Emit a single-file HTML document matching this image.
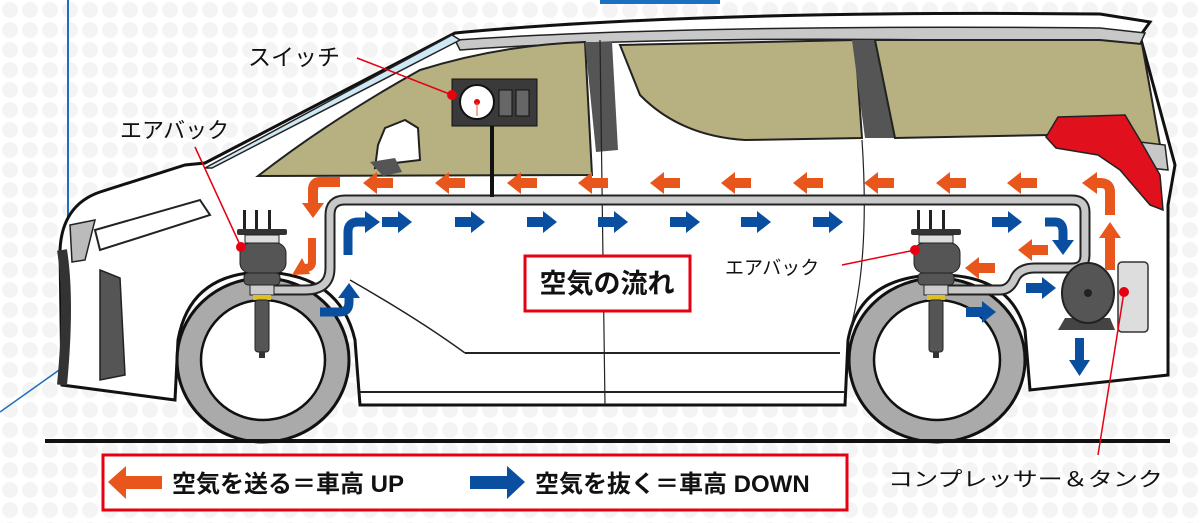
<!DOCTYPE html>
<html><head><meta charset="utf-8"><style>
html,body{margin:0;padding:0;background:#fff}
svg{display:block}
text{font-family:"Liberation Sans","Noto Sans CJK JP",sans-serif}
</style></head><body>
<svg width="1200" height="523" viewBox="0 0 1200 523" xmlns="http://www.w3.org/2000/svg">
<defs>
<pattern id="dots" width="20" height="20" patternUnits="userSpaceOnUse"><circle cx="10" cy="10" r="8" fill="#f4f4f4"/></pattern>
<g id="la"><polygon points="0,0 14,-11 14,-5 30,-5 30,5 14,5 14,11" fill="#e8561c"/></g>
<g id="ra"><polygon points="0,0 -14,-11 -14,-5 -30,-5 -30,5 -14,5 -14,11" fill="#0a4ea0"/></g>
</defs>
<rect width="1200" height="523" fill="url(#dots)"/>
<!-- blue lines -->
<line x1="68" y1="0" x2="68" y2="250" stroke="#1a6fc0" stroke-width="2"/>
<line x1="62" y1="368" x2="0" y2="412" stroke="#1a6fc0" stroke-width="1.5"/>
<rect x="600" y="0" width="120" height="4" fill="#1a6fc0"/>
<!-- body -->
<path d="M62,385 L60,250 Q62,205 100,192 L185,165 L205,163 L455,33 Q700,10 1100,14 L1150,22 L1140,36 L1175,165 L1168,205 L1168,375 L1030,390 L1025,330 Q1010,275 940,275 Q860,275 848,340 L845,405 L360,405 L355,340 Q340,275 265,272 Q190,272 178,340 L175,400 Z" fill="#fff" stroke="#111" stroke-width="3"/>
<!-- roof rail -->
<path d="M455,40 Q700,24 1100,28 L1145,33 L1140,44 Q700,32 460,50 Z" fill="#c8c8c8" stroke="#222" stroke-width="1.5"/>
<!-- A pillar glass strip -->
<path d="M205,168 L452,35 L460,40 L212,168 Z" fill="#cfe8f5" stroke="#222" stroke-width="1.5"/>
<!-- windows -->
<path d="M258,176 Q330,120 420,70 Q500,45 585,42 L592,175 Z" fill="#b7b080" stroke="#222" stroke-width="2"/>
<path d="M585,42 L612,42 L618,150 L596,152 Z" fill="#555"/>
<path d="M620,45 L855,40 L862,138 L745,140 Q680,136 640,95 Z" fill="#b7b080" stroke="#222" stroke-width="2"/>
<path d="M852,40 L875,40 L895,138 L865,138 Z" fill="#555"/>
<path d="M875,40 L1100,40 L1142,44 L1160,145 L1050,135 L895,138 Z" fill="#b7b080" stroke="#222" stroke-width="2"/>
<path d="M1140,142 L1165,145 L1168,170 L1150,168 Z" fill="#c8c8c8" stroke="#222" stroke-width="1.5"/>
<!-- tail light -->
<path d="M1058,117 L1125,115 L1140,140 L1160,175 L1163,210 L1150,205 L1120,170 L1098,155 L1056,148 L1046,137 Z" fill="#e0101c" stroke="#222" stroke-width="1.5"/>
<!-- mirror -->
<path d="M378,145 L385,128 L405,120 L418,128 L420,160 L395,163 L375,168 Z" fill="#fff" stroke="#222" stroke-width="2"/>
<path d="M370,162 L395,158 L402,172 L383,176 Z" fill="#555"/>
<!-- front detail -->
<path d="M95,230 L200,200 L210,215 L100,250 Z" fill="#fff" stroke="#222" stroke-width="2"/>
<path d="M70,225 L95,220 L85,260 L72,262 Z" fill="#bbb" stroke="#222" stroke-width="1.5"/>
<path d="M100,270 L120,278 L125,375 L100,380 Z" fill="#555" stroke="#222" stroke-width="1.5"/>
<path d="M62,250 Q70,300 62,385" fill="none" stroke="#333" stroke-width="10"/>
<!-- sill lines -->
<line x1="465" y1="353" x2="840" y2="353" stroke="#222" stroke-width="2"/>
<line x1="360" y1="392" x2="845" y2="392" stroke="#222" stroke-width="2"/>
<path d="M350,280 Q420,320 465,353" fill="none" stroke="#222" stroke-width="1.5"/>
<line x1="600" y1="40" x2="605" y2="405" stroke="#222" stroke-width="1.2"/>
<path d="M862,140 Q870,260 850,330" fill="none" stroke="#222" stroke-width="1.2"/>
<!-- wheels -->
<ellipse cx="263" cy="360" rx="86" ry="82" fill="#aaa" stroke="#111" stroke-width="3"/>
<ellipse cx="263" cy="360" rx="62" ry="60" fill="#fff" stroke="#111" stroke-width="2.5"/>
<ellipse cx="937" cy="360" rx="88" ry="82" fill="#aaa" stroke="#111" stroke-width="3"/>
<ellipse cx="937" cy="360" rx="63" ry="60" fill="#fff" stroke="#111" stroke-width="2.5"/>
<!-- ground -->
<rect x="45" y="439" width="1125" height="4" fill="#111"/>
<!-- pipe -->
<path d="M940,290 L1000,290 Q1010,290 1015,278 Q1020,268 1035,268 L1072,268 Q1085,268 1085,255 L1085,212 Q1085,200 1072,200 L345,200 Q330,200 330,215 L330,268 Q330,290 305,290 L265,290" fill="none" stroke="#222" stroke-width="11"/>
<path d="M940,290 L1000,290 Q1010,290 1015,278 Q1020,268 1035,268 L1072,268 Q1085,268 1085,255 L1085,212 Q1085,200 1072,200 L345,200 Q330,200 330,215 L330,268 Q330,290 305,290 L265,290" fill="none" stroke="#c8c8c8" stroke-width="7"/>
<!-- airbags -->
<g id="ab">
<rect x="243" y="210" width="3" height="22" fill="#222"/><rect x="255" y="210" width="3" height="22" fill="#222"/><rect x="268" y="210" width="3" height="22" fill="#222"/>
<rect x="237" y="229" width="50" height="6" rx="2" fill="#333"/>
<rect x="245" y="235" width="34" height="8" fill="#ddd" stroke="#222"/>
<rect x="240" y="243" width="46" height="30" rx="10" fill="#555" stroke="#222"/>
<rect x="244" y="273" width="36" height="12" rx="4" fill="#555" stroke="#222"/>
<rect x="250" y="285" width="24" height="10" fill="#ccc" stroke="#222"/>
<rect x="253" y="295" width="18" height="5" fill="#e0c020"/>
<rect x="255" y="300" width="14" height="52" rx="3" fill="#555" stroke="#222"/>
<rect x="259" y="352" width="6" height="6" fill="#333"/>
</g>
<use href="#ab" x="674"/>
<!-- compressor -->
<rect x="1118" y="262" width="30" height="70" rx="4" fill="#ddd" stroke="#333" stroke-width="1.5"/>
<path d="M1065,318 L1110,318 L1115,330 L1058,330 Z" fill="#444"/>
<ellipse cx="1088" cy="293" rx="26" ry="30" fill="#555" stroke="#222" stroke-width="2"/>
<circle cx="1088" cy="293" r="4" fill="#222"/>
<!-- orange arrows -->
<g>
<use href="#la" x="363" y="183"/><use href="#la" x="435" y="183"/><use href="#la" x="507" y="183"/><use href="#la" x="578" y="183"/><use href="#la" x="650" y="183"/><use href="#la" x="721" y="183"/><use href="#la" x="793" y="183"/><use href="#la" x="864" y="183"/><use href="#la" x="936" y="183"/><use href="#la" x="1007" y="183"/>
<use href="#la" x="1018" y="250"/><use href="#la" x="965" y="268"/>
</g>
<path d="M340,182 L320,182 Q313,182 313,190 L313,205" fill="none" stroke="#e8561c" stroke-width="10"/>
<polygon points="302,203 324,203 313,218" fill="#e8561c"/>
<path d="M312,238 L312,262 Q312,268 305,268" fill="none" stroke="#e8561c" stroke-width="8"/>
<polygon points="302,258 292,275 310,274" fill="#e8561c"/>
<path d="M1110,270 L1110,235" fill="none" stroke="#e8561c" stroke-width="10"/>
<polygon points="1099,238 1121,238 1110,222" fill="#e8561c"/>
<path d="M1110,215 L1110,192 Q1110,183 1100,183 L1095,183" fill="none" stroke="#e8561c" stroke-width="10"/>
<polygon points="1082,183 1097,172 1097,194" fill="#e8561c"/>
<!-- blue arrows -->
<g>
<use href="#ra" x="412" y="222"/><use href="#ra" x="485" y="222"/><use href="#ra" x="557" y="222"/><use href="#ra" x="628" y="222"/><use href="#ra" x="700" y="222"/><use href="#ra" x="771" y="222"/><use href="#ra" x="843" y="222"/><use href="#ra" x="1022" y="222"/>
<use href="#ra" x="1056" y="288"/><use href="#ra" x="996" y="312"/>
</g>
<path d="M348,255 L348,232 Q348,222 358,222 L365,222" fill="none" stroke="#0a4ea0" stroke-width="9"/>
<polygon points="380,222 365,211 365,233" fill="#0a4ea0"/>
<path d="M320,312 L340,312 Q349,312 349,302 L349,297" fill="none" stroke="#0a4ea0" stroke-width="9"/>
<polygon points="338,298 360,298 349,283" fill="#0a4ea0"/>
<path d="M1045,222 L1055,222 Q1063,222 1063,232 L1063,240" fill="none" stroke="#0a4ea0" stroke-width="9"/>
<polygon points="1052,240 1074,240 1063,255" fill="#0a4ea0"/>
<rect x="1075" y="338" width="9" height="25" fill="#0a4ea0"/>
<polygon points="1069,360 1090,360 1079.5,376" fill="#0a4ea0"/>
<!-- switch -->
<line x1="492" y1="125" x2="492" y2="197" stroke="#111" stroke-width="4"/>
<rect x="452" y="79" width="85" height="47" fill="#3a3a3a" stroke="#111"/>
<circle cx="477" cy="102" r="17" fill="#fff" stroke="#111" stroke-width="2"/>
<circle cx="477" cy="102" r="3" fill="#e60012"/><line x1="477" y1="102" x2="477" y2="116" stroke="#e8561c" stroke-width="1"/>
<rect x="499" y="90" width="13" height="26" fill="#666" stroke="#111"/>
<rect x="516" y="90" width="13" height="26" fill="#666" stroke="#111"/>
<!-- callouts -->
<line x1="357" y1="58" x2="452" y2="95" stroke="#e60012" stroke-width="1.5"/>
<circle cx="452" cy="95" r="5" fill="#e60012"/>
<text x="248" y="65" font-size="23" fill="#111">スイッチ</text>
<line x1="195" y1="147" x2="241" y2="247" stroke="#e60012" stroke-width="1.5"/>
<circle cx="241" cy="247" r="5" fill="#e60012"/>
<text x="120" y="138" font-size="22" fill="#111">エアバック</text>
<line x1="842" y1="265" x2="915" y2="250" stroke="#e60012" stroke-width="1.5"/>
<circle cx="915" cy="250" r="5" fill="#e60012"/>
<text x="725" y="274" font-size="19" fill="#111">エアバック</text>
<line x1="1124" y1="292" x2="1098" y2="455" stroke="#e60012" stroke-width="1.5"/>
<circle cx="1124" cy="292" r="5" fill="#e60012"/>
<text x="888" y="486" font-size="20" fill="#111" textLength="275" lengthAdjust="spacingAndGlyphs">コンプレッサー＆タンク</text>
<!-- label box -->
<rect x="525" y="256" width="165" height="55" fill="#fff" stroke="#e60012" stroke-width="3"/>
<text x="607" y="293" font-size="27" font-weight="bold" text-anchor="middle" fill="#111">空気の流れ</text>
<!-- legend -->
<rect x="103" y="455" width="744" height="55" fill="#fff" stroke="#e60012" stroke-width="3"/>
<polygon points="108,482 126,466 126,476 162,476 162,489 126,489 126,499" fill="#e8561c"/>
<text x="172" y="492" font-size="24" font-weight="bold" fill="#111">空気を送る＝車高 UP</text>
<polygon points="525,482 507,466 507,476 470,476 470,489 507,489 507,499" fill="#0a4ea0"/>
<text x="535" y="492" font-size="24" font-weight="bold" fill="#111">空気を抜く＝車高 DOWN</text>
</svg>
</body></html>
